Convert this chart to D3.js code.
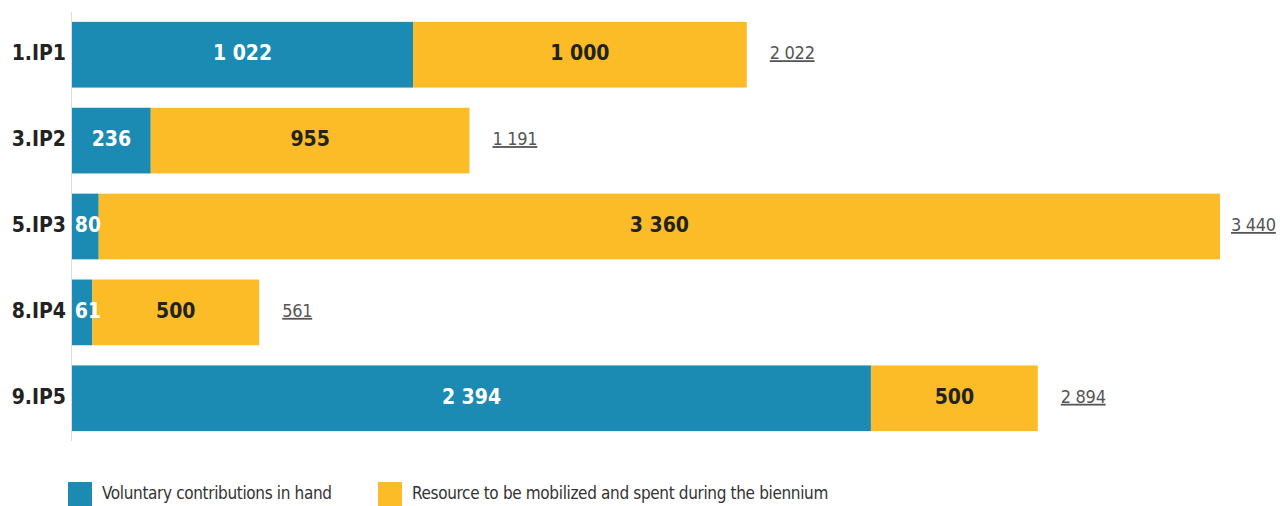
<!DOCTYPE html>
<meta charset="utf-8">
<html>
<head>
<script src="https://d3js.org/d3.v7.min.js"></script>
<style>
  body { margin: 0; background: #fff; }
  text { font-family: "Liberation Sans Narrow", "DejaVu Sans Condensed", "Roboto", sans-serif; }
</style>
</head>
<body>
<div id="chart"></div>
<script>
// data
var categories = ["1.IP1", "3.IP2", "5.IP3", "8.IP4", "9.IP5"];
var inHand = [1022, 236, 80, 61, 2394];
var toMobilize = [1000, 955, 3360, 500, 500];
var seriesNames = ["Voluntary contributions in hand", "Resource to be mobilized and spent during the biennium"];
var colors = ["#1b8bb4", "#fbbc27"];

var W = 1280, H = 506;
var margin = {top: 12, left: 72};

var svg = d3.select("#chart").append("svg")
  .attr("width", W).attr("height", H);

var x = d3.scaleLinear().domain([0, 3440]).range([margin.left, 1220]);
var y = d3.scaleBand().domain(categories).range([12, 441]).paddingInner(0.235).paddingOuter(0.115);

var fmt = function(v) { return d3.format(",")(v).replace(/,/g, " "); };

// axis line
svg.append("line")
  .attr("x1", margin.left - 0.5).attr("x2", margin.left - 0.5)
  .attr("y1", 12).attr("y2", 441)
  .attr("stroke", "#ddd").attr("stroke-width", 1);

var rows = categories.map(function(c, i) {
  return {cat: c, a: inHand[i], b: toMobilize[i]};
});

var g = svg.selectAll("g.row").data(rows).enter().append("g").attr("class", "row");

g.append("rect")
  .attr("x", x(0))
  .attr("y", function(d) { return y(d.cat); })
  .attr("width", function(d) { return x(d.a) - x(0); })
  .attr("height", y.bandwidth())
  .attr("fill", colors[0]);

g.append("rect")
  .attr("x", function(d) { return x(d.a); })
  .attr("y", function(d) { return y(d.cat); })
  .attr("width", function(d) { return x(d.a + d.b) - x(d.a); })
  .attr("height", y.bandwidth())
  .attr("fill", colors[1]);

var mid = function(d) { return y(d.cat) + y.bandwidth() / 2 - 2; };

// value labels
g.append("text")
  .attr("x", function(d) { return Math.max((x(0) + x(d.a)) / 2, x(0) + 16); })
  .attr("y", mid)
  .attr("dy", "0.36em")
  .attr("text-anchor", "middle")
  .attr("font-size", 21).attr("font-weight", "bold")
  .attr("fill", "#fff")
  .text(function(d) { return fmt(d.a); });

g.append("text")
  .attr("x", function(d) { return (x(d.a) + x(d.a + d.b)) / 2; })
  .attr("y", mid)
  .attr("dy", "0.36em")
  .attr("text-anchor", "middle")
  .attr("font-size", 21).attr("font-weight", "bold")
  .attr("fill", "#222")
  .text(function(d) { return fmt(d.b); });

// totals
g.append("text")
  .attr("x", function(d) { return Math.min(x(d.a + d.b) + 23, 1231); })
  .attr("y", mid)
  .attr("dy", "0.36em")
  .attr("font-size", 18)
  .attr("letter-spacing", -0.3)
  .attr("fill", "#555")
  .attr("text-decoration", "underline")
  .text(function(d) { return fmt(d.a + d.b); });

// category labels
g.append("text")
  .attr("x", 66)
  .attr("y", mid)
  .attr("dy", "0.36em")
  .attr("text-anchor", "end")
  .attr("font-size", 21).attr("font-weight", "bold")
  .attr("fill", "#222")
  .text(function(d) { return d.cat; });

// legend
var legX = [68, 378];
var leg = svg.selectAll("g.leg").data(seriesNames).enter().append("g").attr("class", "leg")
  .attr("transform", function(d, i) { return "translate(" + legX[i] + ",482)"; });
leg.append("rect").attr("width", 24).attr("height", 24)
  .attr("fill", function(d, i) { return colors[i]; });
leg.append("text").attr("x", 34).attr("y", 11).attr("dy", "0.36em")
  .attr("font-size", 17).attr("letter-spacing", -0.35).attr("fill", "#333")
  .text(function(d) { return d; });
</script>
</body>
</html>
